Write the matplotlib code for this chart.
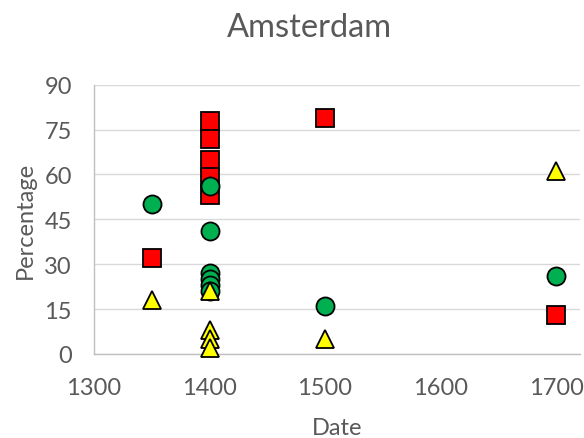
import matplotlib
matplotlib.use("Agg")
import matplotlib.pyplot as plt

plt.rcParams['font.family'] = ['Lato', 'DejaVu Sans']

title = "Amsterdam"
x_label = "Date"
y_label = "Percentage"

sq_dates = [1350, 1400, 1400, 1400, 1400, 1400, 1500, 1700]
sq_vals = [32, 78, 72, 65, 59, 53, 79, 13]

circ_dates = [1350, 1400, 1400, 1400, 1400, 1400, 1400, 1500, 1700]
circ_vals = [50, 56, 41, 27, 25, 23, 21, 16, 26]

tri_dates = [1350, 1400, 1400, 1400, 1400, 1500, 1700]
tri_vals = [18, 21, 8, 5, 2, 5, 61]

x_ticks = [1300, 1400, 1500, 1600, 1700]
y_ticks = [0, 15, 30, 45, 60, 75, 90]

txt = '#595959'
fig = plt.figure(figsize=(5.84, 4.39), dpi=100)
ax = fig.add_axes([94/584, 1-355/439, (580-94)/584, (355-85.7)/439])

ms = 12.5
ax.plot(sq_dates, sq_vals, 's', ms=ms, mfc='#FF0000', mec='black', mew=1.3, zorder=3, clip_on=False)
ax.plot(circ_dates, circ_vals, 'o', ms=ms + 0.5, mfc='#00B050', mec='black', mew=1.3, zorder=4, clip_on=False)
ax.plot(tri_dates, tri_vals, '^', ms=ms, mfc='#FFFF00', mec='black', mew=1.3, zorder=5, clip_on=False)

ax.set_xlim(1300, 1300 + (580-94)/1.155)
ax.set_ylim(0, 90)
ax.set_xticks(x_ticks)
ax.set_yticks(y_ticks)
ax.grid(axis='y', color='#D9D9D9', lw=1.0, zorder=0)
ax.set_axisbelow(True)
for s in ['top', 'right']:
    ax.spines[s].set_visible(False)
for s in ['left', 'bottom']:
    ax.spines[s].set_color('#BFBFBF')
    ax.spines[s].set_linewidth(1.0)
ax.tick_params(length=0, labelsize=17, labelcolor=txt)
ax.tick_params(axis='x', pad=16.5)
ax.tick_params(axis='y', pad=16)
ax.set_xlabel(x_label, fontsize=17, color=txt, labelpad=14)
ax.set_ylabel(y_label, fontsize=17, color=txt, labelpad=6)
fig.text(0.5 * (228 + 390) / 584, 1 - 28/439, title, fontsize=23.5, color=txt, ha='center', va='center')

fig.savefig('out.png', dpi=100)
